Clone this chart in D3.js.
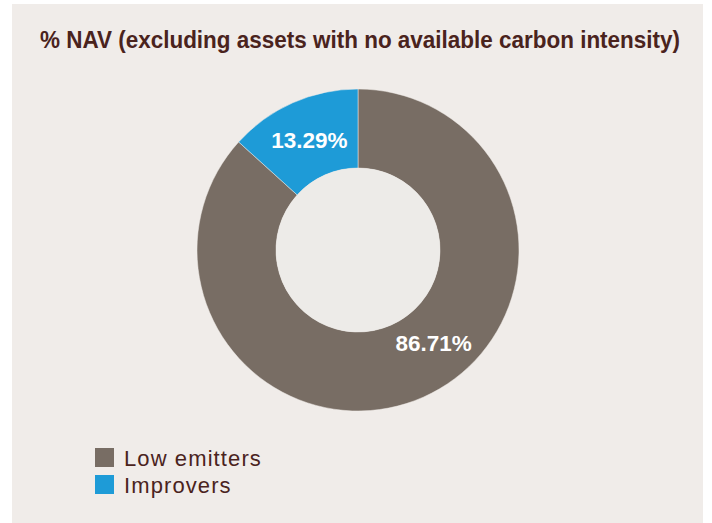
<!DOCTYPE html>
<html lang="en">
<head>
  <meta charset="UTF-8" />
  <title>% NAV donut</title>
  <script src="https://d3js.org/d3.v7.min.js"></script>
  <style>
    body { margin: 0; background: #ffffff; }
    svg { display: block; font-family: "Liberation Sans", Arial, sans-serif; }
  </style>
</head>
<body>
  <div id="chart"></div>
  <script>
    // data
    const categories = ["Low emitters", "Improvers"];
    const values = [86.71, 13.29];
    const valueLabels = ["86.71%", "13.29%"];
    const colorsList = ["#786d64", "#1e9bd7"];
    const title = "% NAV (excluding assets with no available carbon intensity)";

    const W = 712, H = 523;
    const svg = d3.select("#chart").append("svg")
      .attr("width", W).attr("height", H);

    // panel
    svg.append("rect")
      .attr("x", 12).attr("y", 4)
      .attr("width", 691).attr("height", 519)
      .attr("fill", "#f0ece9");

    // title
    const t = svg.append("text")
      .attr("x", 40).attr("y", 48)
      .attr("fill", "#4a231d")
      .attr("font-size", 23.5)
      .attr("font-weight", "bold")
      .text(title);
    t.attr("textLength", 640).attr("lengthAdjust", "spacingAndGlyphs");

    const cx = 358, cy = 250, R = 161, r = 82;
    const g = svg.append("g").attr("transform", `translate(${cx},${cy})`);

    const color = d3.scaleOrdinal().domain(categories).range(colorsList);
    const pie = d3.pie().sort(null).value(d => d.value);
    const arcs = pie(categories.map((c, i) => ({ cat: c, value: values[i], label: valueLabels[i] })));
    const arc = d3.arc().innerRadius(r).outerRadius(R);

    g.selectAll("path.slice")
      .data(arcs)
      .enter().append("path")
      .attr("class", "slice")
      .attr("d", arc)
      .attr("fill", d => color(d.data.cat))
      .attr("stroke", "#f0ece9")
      .attr("stroke-width", 0.5);

    // hole
    g.append("circle").attr("r", r).attr("fill", "#edebe8");

    // labels: big slice label sits lower-right, not at the mid-angle
    const labelArc = d3.arc().innerRadius(120).outerRadius(120);
    g.selectAll("text.val")
      .data(arcs)
      .enter().append("text")
      .attr("class", "val")
      .attr("transform", d => {
        const a = d.endAngle - d.startAngle > Math.PI ? 2.46 : (d.startAngle + d.endAngle) / 2;
        const p = labelArc.centroid({ startAngle: a, endAngle: a });
        return `translate(${p[0]},${p[1]})`;
      })
      .attr("text-anchor", "middle")
      .attr("dy", "0.36em")
      .attr("fill", "#ffffff")
      .attr("font-size", 22.5)
      .attr("font-weight", "bold")
      .text(d => d.data.label);

    // legend
    const leg = svg.append("g").attr("transform", "translate(95,448)");
    const item = leg.selectAll("g")
      .data(categories)
      .enter().append("g")
      .attr("transform", (d, i) => `translate(0,${i * 27})`);
    item.append("rect")
      .attr("width", 19).attr("height", 19)
      .attr("fill", d => color(d));
    item.append("text")
      .attr("x", 29).attr("y", 10)
      .attr("dy", "0.36em")
      .attr("fill", "#4a231d")
      .attr("font-size", 22)
      .attr("letter-spacing", 1.1)
      .text(d => d);
  </script>
</body>
</html>
